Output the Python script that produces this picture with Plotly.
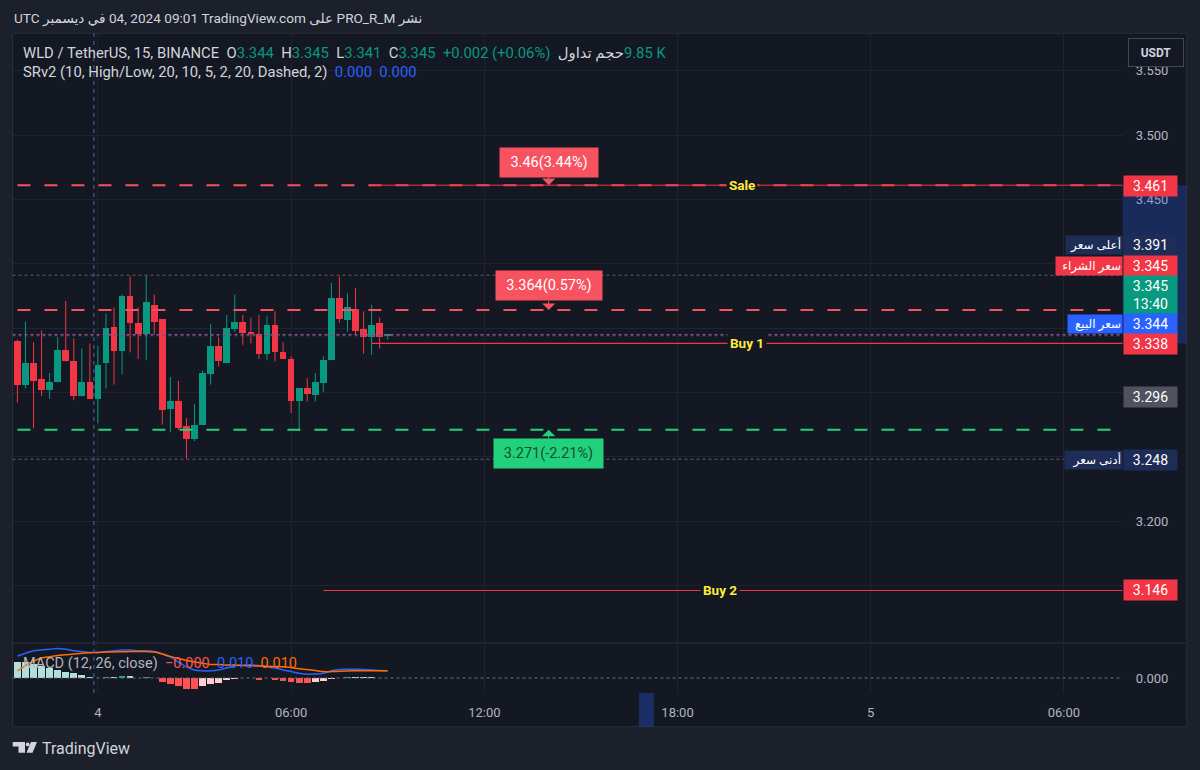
import pandas as pd
import plotly.graph_objects as go

W, H = 1200, 770
def px(x): return x / W
def py(y): return 1 - y / H

# ---------------- data ----------------
bar_times = pd.date_range("2024-12-03 21:30", periods=47, freq="15min")
opens = [3.340, 3.306, 3.323, 3.310, 3.302, 3.308, 3.333, 3.324, 3.297, 3.308,
         3.295, 3.323, 3.351, 3.332, 3.375, 3.354, 3.345, 3.368, 3.357, 3.287,
         3.293, 3.274, 3.264, 3.275, 3.314, 3.336, 3.323, 3.349, 3.355, 3.347,
         3.345, 3.330, 3.352, 3.331, 3.326, 3.293, 3.303, 3.298, 3.307, 3.325,
         3.373, 3.356, 3.365, 3.349, 3.343, 3.354, 3.344]
highs = [3.341, 3.355, 3.339, 3.348, 3.315, 3.343, 3.371, 3.342, 3.334, 3.338,
         3.336, 3.361, 3.366, 3.376, 3.390, 3.366, 3.391, 3.376, 3.357, 3.312,
         3.309, 3.280, 3.291, 3.317, 3.353, 3.343, 3.360, 3.376, 3.360, 3.358,
         3.360, 3.359, 3.363, 3.339, 3.328, 3.303, 3.311, 3.315, 3.328, 3.385,
         3.390, 3.377, 3.381, 3.363, 3.368, 3.358, 3.345]
lows = [3.292, 3.303, 3.272, 3.297, 3.295, 3.308, 3.324, 3.294, 3.297, 3.295,
        3.276, 3.303, 3.306, 3.314, 3.331, 3.326, 3.325, 3.345, 3.275, 3.269,
        3.271, 3.248, 3.262, 3.275, 3.306, 3.320, 3.323, 3.347, 3.337, 3.338,
        3.326, 3.325, 3.324, 3.326, 3.284, 3.270, 3.293, 3.293, 3.300, 3.325,
        3.354, 3.347, 3.345, 3.330, 3.329, 3.334, 3.341]
closes = [3.306, 3.323, 3.309, 3.302, 3.308, 3.333, 3.324, 3.297, 3.308, 3.295,
          3.321, 3.350, 3.332, 3.375, 3.354, 3.345, 3.370, 3.355, 3.286, 3.293,
          3.272, 3.264, 3.275, 3.315, 3.336, 3.324, 3.350, 3.355, 3.346, 3.345,
          3.330, 3.352, 3.331, 3.326, 3.293, 3.303, 3.299, 3.308, 3.325, 3.373,
          3.357, 3.366, 3.348, 3.343, 3.352, 3.343, 3.345]

macd_line = [0.0275, 0.031, 0.034, 0.035, 0.036, 0.037, 0.036, 0.034, 0.033, 0.032,
             0.032, 0.033, 0.034, 0.035, 0.035, 0.034, 0.034, 0.033, 0.030, 0.026,
             0.020, 0.014, 0.010, 0.009, 0.009, 0.010, 0.0125, 0.015, 0.016, 0.0166,
             0.0156, 0.014, 0.0125, 0.010, 0.008, 0.006, 0.0046, 0.005, 0.006, 0.009,
             0.0106, 0.011, 0.011, 0.0106, 0.010, 0.0094, 0.009]
signal_line = [0.00875, 0.0156, 0.021, 0.025, 0.0266, 0.028, 0.029, 0.030, 0.031, 0.0316,
               0.032, 0.0325, 0.0325, 0.0328, 0.033, 0.033, 0.033, 0.0325, 0.030, 0.027,
               0.0244, 0.022, 0.020, 0.0184, 0.017, 0.0168, 0.0163, 0.0163, 0.0156, 0.0153,
               0.015, 0.0146, 0.0144, 0.014, 0.013, 0.0116, 0.0106, 0.0094, 0.008, 0.008,
               0.0085, 0.0088, 0.009, 0.009, 0.009, 0.009, 0.009]
histogram = [0.020, 0.020, 0.0175, 0.0144, 0.012, 0.0094, 0.0069, 0.006, 0.004, 0.0013,
             0.0006, 0.0013, 0.0009, 0.003, 0.0028, 0.0006, 0.0013, 0.0004, -0.005, -0.0075,
             -0.0105, -0.0138, -0.0141, -0.0096, -0.0071, -0.0063, -0.003, -0.0018, -0.0006, 0.0004,
             -0.002, -0.0006, -0.003, -0.0032, -0.005, -0.0062, -0.0063, -0.0055, -0.0043, -0.0012,
             0.0006, 0.0013, 0.0012, 0.0011, 0.0009, 0.0004, -0.0004]

# levels
sale_level = 3.461
buy1_level = 3.338
buy2_level = 3.146
resist_level = 3.364
support_level = 3.271
day_high = 3.391
day_low = 3.248
ask_price = 3.345
bid_price = 3.344
last_price = 3.345
prev_close = 3.296
resist_text = "3.364(0.57%)"
support_text = "3.271(-2.21%)"
sale_text = "3.46(3.44%)"
price_ticks = [3.15, 3.20, 3.25, 3.30, 3.35, 3.40, 3.45, 3.50, 3.55]
# tick labels hidden behind the price tags in the reference are left blank
price_tick_text = ["", "3.200", "", "", "", "", "3.450", "3.500", "3.550"]
time_tick_vals = ["2024-12-04 00:00", "2024-12-04 06:00", "2024-12-04 12:00",
                  "2024-12-04 18:00", "2024-12-05 00:00", "2024-12-05 06:00"]
time_tick_text = ["4", "06:00", "12:00", "18:00", "5", "06:00"]

# ---------------- style ----------------
OUTER = "#1c202b"
INNER = "#141823"
GRID = "#1f2330"
UP = "#089981"
DOWN = "#f23645"
TXT = "#d1d4dc"
AXT = "#b2b5be"
FONT = "Roboto, 'DejaVu Sans', sans-serif"

x_left = pd.Timestamp("2024-12-03 21:20:50")
x_right = pd.Timestamp("2024-12-05 07:49:30")
t_start = bar_times[0]
line_start = pd.Timestamp("2024-12-04 08:30")
buy2_start = pd.Timestamp("2024-12-04 07:00")
label_t = pd.Timestamp("2024-12-04 14:00")
sess_break = pd.Timestamp("2024-12-03 23:52:30")

fig = go.Figure()

# candle bodies + wicks
body_w = 15 * 60 * 1000 * 0.83
for is_up, col in [(True, UP), (False, DOWN)]:
    idx = [i for i in range(len(opens)) if (closes[i] >= opens[i]) == is_up]
    wx, wy = [], []
    for i in idx:
        wx += [bar_times[i], bar_times[i], None]
        wy += [lows[i], highs[i], None]
    fig.add_trace(go.Scatter(x=wx, y=wy, mode="lines", line=dict(color=col, width=1),
                             hoverinfo="skip", showlegend=False, xaxis="x", yaxis="y"))
    fig.add_trace(go.Bar(x=[bar_times[i] for i in idx],
                         y=[max(abs(closes[i] - opens[i]), 0.0008) for i in idx],
                         base=[min(opens[i], closes[i]) for i in idx],
                         width=body_w, marker=dict(color=col, line=dict(width=0)),
                         hoverinfo="skip", showlegend=False, xaxis="x", yaxis="y"))

# MACD histogram colours
hcols = []
for i, v in enumerate(histogram):
    prev = histogram[i - 1] if i > 0 else v
    if v >= 0:
        hcols.append("#26a69a" if v > prev else "#b2dfdb")
    else:
        hcols.append("#ffcdd2" if v > prev else "#ff5252")
fig.add_trace(go.Bar(x=bar_times, y=histogram, width=body_w,
                     marker=dict(color=hcols, line=dict(width=0)),
                     hoverinfo="skip", showlegend=False, xaxis="x", yaxis="y2"))
fig.add_trace(go.Scatter(x=bar_times, y=macd_line, mode="lines", line=dict(color="#2962ff", width=1.5, shape="spline"),
                         hoverinfo="skip", showlegend=False, xaxis="x", yaxis="y2"))
fig.add_trace(go.Scatter(x=bar_times, y=signal_line, mode="lines", line=dict(color="#ff6d00", width=1.5, shape="spline"),
                         hoverinfo="skip", showlegend=False, xaxis="x", yaxis="y2"))

shapes = []
shapes.append(dict(type="rect", xref="paper", yref="paper", x0=px(12.5), x1=px(1186.7), y0=py(726.7), y1=py(33.3),
                   fillcolor=INNER, line=dict(color="#2a2e39", width=1), layer="below"))
def hline(level, color, dash, width, start=t_start, end=x_right, yref="y"):
    shapes.append(dict(type="line", xref="x", yref=yref, x0=start, x1=end, y0=level, y1=level,
                       line=dict(color=color, width=width, dash=dash), layer="above"))

hline(day_high, "#5d606b", "dot", 1, start=x_left)
hline(day_low, "#5d606b", "dot", 1, start=x_left)
hline(ask_price, "#b84a5f", "dot", 1, start=x_left)
hline(bid_price, "#3a5bb8", "dot", 1, start=x_left)
hline(sale_level, "#f7525f", "13px,14px", 2)
hline(resist_level, "#f7525f", "13px,14px", 2)
hline(support_level, "#22d17b", "13px,14px", 2)
hline(sale_level, "#f23645", "solid", 1, start=line_start)
hline(buy1_level, "#f23645", "solid", 1.2, start=line_start)
hline(buy2_level, "#f23645", "solid", 1, start=buy2_start)
hline(0, "#6a6d78", "3px,3px", 1, start=x_left, yref="y2")
shapes.append(dict(type="line", xref="x", yref="paper", x0=sess_break, x1=sess_break, y0=py(693), y1=py(33.3),
                   line=dict(color="#4a6aa8", width=1, dash="4px,4px"), layer="above"))
shapes.append(dict(type="line", xref="paper", yref="paper", x0=px(12.5), x1=px(1186.7), y0=py(643), y1=py(643),
                   line=dict(color="#2a2e39", width=1), layer="above"))
shapes.append(dict(type="rect", xref="paper", yref="y", x0=px(1122.7), x1=px(1186.7), y0=buy1_level, y1=sale_level,
                   fillcolor="rgba(41,98,255,0.25)", line=dict(width=0), layer="above"))
shapes.append(dict(type="rect", xref="x", yref="paper", x0=pd.Timestamp("2024-12-04 16:48"), x1=pd.Timestamp("2024-12-04 17:16"),
                   y0=py(726.7), y1=py(693), fillcolor="rgba(41,98,255,0.3)", line=dict(width=0), layer="above"))
# TradingView logo
shapes.append(dict(type="path", xref="paper", yref="paper",
                   path=f"M {px(12.7)},{py(742)} L {px(25)},{py(742)} L {px(25)},{py(752.7)} L {px(18.5)},{py(752.7)} L {px(18.5)},{py(746.5)} L {px(12.7)},{py(746.5)} Z",
                   fillcolor="#d1d4dc", line=dict(width=0)))
shapes.append(dict(type="circle", xref="paper", yref="paper", x0=px(25.8), x1=px(29.6), y0=py(746.3), y1=py(742.5),
                   fillcolor="#d1d4dc", line=dict(width=0)))
shapes.append(dict(type="path", xref="paper", yref="paper",
                   path=f"M {px(31)},{py(742)} L {px(37)},{py(742)} L {px(32.5)},{py(752.7)} L {px(26.5)},{py(752.7)} Z",
                   fillcolor="#d1d4dc", line=dict(width=0)))

ann = []
def text(x, y, t, size=14, color=TXT, xanchor="left", **kw):
    ann.append(dict(xref="paper", yref="paper", x=px(x), y=py(y), text=t, showarrow=False,
                    xanchor=xanchor, yanchor="middle", font=dict(size=size, color=color, family=FONT), **kw))

LRM = "\u200e"
NB = "\u00a0"
text(12, 19, f"UTC في ديسمبر{LRM} 04, 2024 09:01 TradingView.com على PRO_R_M نشر", size=13.6)
g = lambda s, c=UP: f'<span style="color:{c}">{s}</span>'
line1 = (f"WLD / TetherUS, 15, BINANCE{NB}{NB}O{g('3.344')}{NB}{NB}H{g('3.345')}{NB}{NB}L{g('3.341')}{NB}{NB}C{g('3.345')}"
         f"{NB}{NB}{g('+0.002 (+0.06%)')}{NB}{NB}حجم تداول{LRM}{g('9.85' + NB + 'K')}")
text(21, 53, line1, size=14.8)
text(21, 72, f"SRv2 (10, High/Low, 20, 10, 5, 2, 20, Dashed, 2){NB}{NB}{g('0.000', '#2962ff')}{NB}{NB}{g('0.000', '#2962ff')}", size=14.8)
text(21, 663, f"MACD (12, 26, close){NB}{NB}{g('−0.000', '#ff5252')}{NB}{NB}{g('0.010', '#2962ff')}{NB}{NB}{g('0.010', '#ff6d00')}",
     size=14.5, color=AXT)
text(40, 748, "TradingView", size=16, color=TXT)
ann.append(dict(xref="paper", yref="paper", x=px(1156), y=py(52), text="<b>USDT</b>", showarrow=False,
                xanchor="center", yanchor="middle", font=dict(size=12, color=TXT, family=FONT),
                bgcolor=INNER, bordercolor="#434651", borderwidth=1, borderpad=4, width=46, height=19))

def plabel(level, t, bg, shift=0, fc="white", height=18):
    ann.append(dict(xref="paper", yref="y", x=px(1122.7), y=level, yshift=shift, text=t, showarrow=False,
                    xanchor="left", yanchor="middle", font=dict(size=14, color=fc, family=FONT),
                    bgcolor=bg, borderpad=1, width=51, height=height, align="center"))

def slabel(level, t, bg, w, shift=0):
    ann.append(dict(xref="paper", yref="y", x=px(1122.7), y=level, yshift=shift, text=t, showarrow=False,
                    xanchor="right", yanchor="middle", font=dict(size=12, color="white", family=FONT),
                    bgcolor=bg, borderpad=1, width=w, height=16, align="right"))

NAVY = "#1e2d57"
plabel(sale_level, "3.461", DOWN, shift=-1)
plabel(day_high, "3.391", NAVY, shift=30)
slabel(day_high, "أعلى سعر", NAVY, 54, shift=30)
plabel(ask_price, "3.345", DOWN, shift=68)
slabel(ask_price, "سعر الشراء", DOWN, 64, shift=68)
plabel(last_price, "3.345<br>13:40", UP, shift=39, height=36)
plabel(bid_price, "3.344", "#2962ff", shift=12)
slabel(bid_price, "سعر البيع", "#2962ff", 52, shift=12)
plabel(buy1_level, "3.338", DOWN, shift=-1)
plabel(prev_close, "3.296", "#50535e")
plabel(day_low, "3.248", NAVY, shift=-1)
slabel(day_low, "أدنى سعر", NAVY, 55, shift=-1)
plabel(buy2_level, "3.146", DOWN)

def boxlabel(level, t, bg, fc, ay, w):
    ann.append(dict(xref="x", yref="y", x=label_t, y=level, text=t, showarrow=True, ax=0, ay=ay,
                    arrowhead=1, arrowsize=2.2, arrowwidth=1, arrowcolor=bg, standoff=0,
                    font=dict(size=14.5, color=fc, family=FONT), bgcolor=bg, borderpad=4,
                    width=w, height=21))
boxlabel(sale_level, sale_text, "#f7525f", "white", -23, 90)
boxlabel(resist_level, resist_text, "#f7525f", "white", -24, 98)
boxlabel(support_level, support_text, "#22d17b", "#14502f", 24, 101)

def tag(t_x, level, t):
    ann.append(dict(xref="x", yref="y", x=t_x, y=level, text=f"<b>{t}</b>", showarrow=False,
                    font=dict(size=13.5, color="#ffeb3b", family=FONT), bgcolor=INNER, borderpad=2))
tag(pd.Timestamp("2024-12-04 20:00"), sale_level, "Sale")
tag(pd.Timestamp("2024-12-04 20:10"), buy1_level, "Buy 1")
tag(pd.Timestamp("2024-12-04 19:20"), buy2_level, "Buy 2")

fig.update_layout(
    width=W, height=H, margin=dict(l=0, r=0, t=0, b=0),
    paper_bgcolor=OUTER, plot_bgcolor=INNER, showlegend=False, bargap=0,
    font=dict(family=FONT, color=AXT), hovermode=False,
    xaxis=dict(type="date", domain=[px(12.5), px(1122.7)], range=[x_left, x_right], anchor="y2",
               tickvals=time_tick_vals, ticktext=time_tick_text, tickfont=dict(size=13, color=AXT),
               showgrid=True, gridcolor=GRID, gridwidth=1, zeroline=False, showline=False, ticks="",
               ticklabelstandoff=10, rangeslider=dict(visible=False), fixedrange=True),
    yaxis=dict(domain=[py(643), py(33.3)], range=[3.10519, 3.57904], anchor="x", side="right",
               tickvals=price_ticks, ticktext=price_tick_text, tickfont=dict(size=13, color=AXT),
               showgrid=True, gridcolor=GRID, zeroline=False, showline=False, ticks="",
               ticklabelstandoff=12, fixedrange=True),
    yaxis2=dict(domain=[py(693), py(643)], range=[-0.01875, 0.04375], anchor="x", side="right",
                tickvals=[0], ticktext=["0.000"], tickfont=dict(size=13, color=AXT),
                showgrid=False, zeroline=False, showline=False, ticks="", ticklabelstandoff=12,
                fixedrange=True),
    shapes=shapes, annotations=ann,
)
fig.write_html("out.html", config={"displayModeBar": False, "staticPlot": True})

# remove the browser's default 8px body margin so the figure sits at the page origin
with open("out.html", encoding="utf-8") as f:
    html = f.read()
html = html.replace("<body>", '<body style="margin:0;padding:0;overflow:hidden">', 1)
with open("out.html", "w", encoding="utf-8") as f:
    f.write(html)
